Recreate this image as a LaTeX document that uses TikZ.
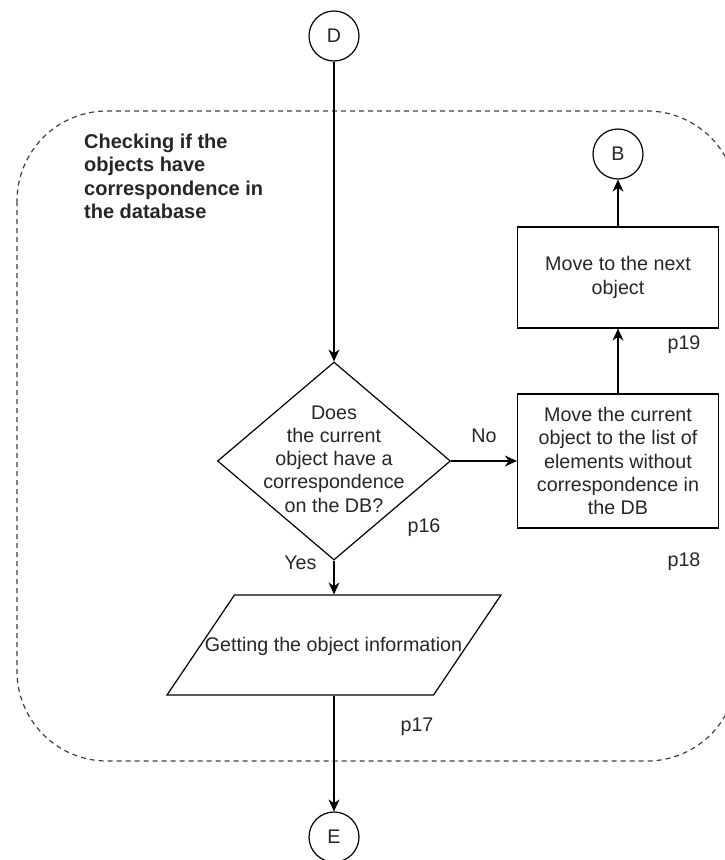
\documentclass[tikz,border=0pt]{standalone}
\usepackage{fontspec}
\setmainfont{Liberation Sans}
\usetikzlibrary{arrows.meta,shapes.geometric}

\begin{document}
\begin{tikzpicture}[x=1pt, y=-1pt,
  font=\fontsize{19.7}{23.3}\selectfont, text=black!85,
  con/.style={draw, circle, minimum size=50pt, inner sep=0pt, line width=1.2pt},
  proc/.style={draw, minimum width=201pt, inner sep=0pt, line width=1.2pt,
               align=center},
  dec/.style={draw, diamond, minimum width=233pt, minimum height=198pt,
              inner sep=0pt, line width=1.2pt},
  io/.style={draw, trapezium, trapezium left angle=56, trapezium right angle=124,
             trapezium stretches body, minimum width=334pt,
             inner sep=0pt, line width=1.2pt},
  txt/.style={align=center, inner sep=0pt},
  lbl/.style={inner sep=0pt},
  a/.style={-{Stealth[length=12pt, width=11pt]}, line width=1.2pt}]

\useasboundingbox (0,0) rectangle (724,860);

% ---------------- the dashed group --------------------------------------
\draw[black!75, dash pattern=on 5pt off 4pt, line width=1.2pt,
      rounded corners=90pt] (17,111) rectangle (737,761);
\node[lbl, anchor=north west, align=left, font=\fontsize{20}{23.3}\selectfont\bfseries]
      (title) at (84,134)
      {Checking if the\\objects have\\correspondence in\\the database};

% ---------------- connectors in and out ---------------------------------
\node[con] (d) at (334,36) {D};
\node[con] (b) at (618,154) {B};
\node[con] (e) at (334,837) {E};

% ---------------- the decision ------------------------------------------
\node[dec] (q) at (334,461) {};
\node[txt] (qt) at (334,459)
      {Does\\the current\\object have a\\correspondence\\on the DB?};
\node[lbl] (p16) at (424,528) {p16};

% ---------------- the no branch -----------------------------------------
\node[proc, minimum height=134pt] (mv) at (618,461)
      {Move the current\\object to the list of\\elements without\\correspondence in\\the DB};
\node[lbl] (p18) at (684,562) {p18};
\node[proc, minimum height=101pt] (nx) at (618,277.5)
      {Move to the next\\object};
\node[lbl] (p19) at (684,345) {p19};

% ---------------- the yes branch ----------------------------------------
\node[io] (get) at (334,645) {\rule{0pt}{100pt}};
\node[txt] (gt) at (333.5,646) {Getting the object information};
\node[lbl] (p17) at (417,727) {p17};

% ---------------- arrows ------------------------------------------------
\draw[a] (d) -- (q);
\draw[a] (q) -- node[lbl, above=18pt] {No} (mv);
\draw[a] (mv) -- (nx);
\draw[a] (nx) -- (b);
\draw[a] (q) -- node[lbl, pos=0.06, left=17pt] {Yes} (get);
\draw[a] (get) -- (e);
\end{tikzpicture}
\end{document}
